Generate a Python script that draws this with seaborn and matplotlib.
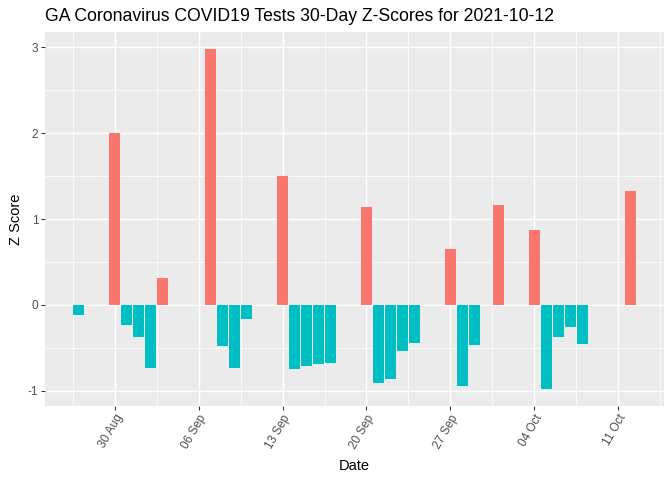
import numpy as np
import pandas as pd
import matplotlib
matplotlib.use("Agg")
import matplotlib.pyplot as plt
import matplotlib.dates as mdates
from matplotlib.ticker import FixedLocator
import seaborn as sns

dates = ["2021-08-27", "2021-08-30", "2021-08-31", "2021-09-01", "2021-09-02", "2021-09-03",
         "2021-09-07", "2021-09-08", "2021-09-09", "2021-09-10",
         "2021-09-13", "2021-09-14", "2021-09-15", "2021-09-16", "2021-09-17",
         "2021-09-20", "2021-09-21", "2021-09-22", "2021-09-23", "2021-09-24",
         "2021-09-27", "2021-09-28", "2021-09-29", "2021-10-01",
         "2021-10-04", "2021-10-05", "2021-10-06", "2021-10-07", "2021-10-08",
         "2021-10-12"]
z_scores = [-0.12, 2.00, -0.23, -0.37, -0.73, 0.31,
            2.98, -0.48, -0.73, -0.17,
            1.50, -0.75, -0.71, -0.69, -0.68,
            1.14, -0.91, -0.86, -0.54, -0.44,
            0.65, -0.94, -0.47, 1.16,
            0.87, -0.98, -0.37, -0.26, -0.46,
            1.33]
tick_dates = ["2021-08-30", "2021-09-06", "2021-09-13", "2021-09-20",
              "2021-09-27", "2021-10-04", "2021-10-11"]
title = "GA Coronavirus COVID19 Tests 30-Day Z-Scores for 2021-10-12"

sns.set_style("darkgrid")
plt.rcParams["font.family"] = ["Liberation Sans", "DejaVu Sans"]
plt.rcParams["axes.unicode_minus"] = False

df = pd.DataFrame({"date": pd.to_datetime(dates), "z": z_scores})
df["x"] = mdates.date2num(df["date"])
df["sign"] = np.where(df["z"] > 0, "pos", "neg")

fig = plt.figure(figsize=(7, 5), dpi=96)
ax = fig.add_axes([45/672, 1-406/480, (664-45)/672, (406-32)/480])
sns.barplot(data=df, x="x", y="z", hue="sign",
            palette={"pos": "#F8766D", "neg": "#00BFC4"},
            native_scale=True, width=0.9, dodge=False, legend=False,
            saturation=1, linewidth=0, ax=ax)

xmin = df["x"].min() - 0.45
xmax = df["x"].max() + 0.45
pad = (xmax - xmin) * 0.05
ax.set_xlim(xmin - pad, xmax + pad)
ymin, ymax = min(0, df["z"].min()), df["z"].max()
ypad = (ymax - ymin) * 0.05
ax.set_ylim(ymin - ypad, ymax + ypad)

ticks = mdates.date2num(pd.to_datetime(tick_dates))
ax.xaxis.set_major_locator(FixedLocator(ticks))
ax.set_xticklabels(pd.to_datetime(tick_dates).strftime("%d %b"))
minors = list(ticks - 3.5) + [ticks[-1] + 3.5]
ax.xaxis.set_minor_locator(FixedLocator(minors))
ax.yaxis.set_major_locator(FixedLocator([-1, 0, 1, 2, 3]))
ax.set_yticklabels(["-1", "0", "1", "2", "3"])
ax.yaxis.set_minor_locator(FixedLocator([-0.5, 0.5, 1.5, 2.5]))

ax.set_facecolor("#EBEBEB")
for s in ax.spines.values():
    s.set_visible(False)
ax.grid(which="major", color="white", linewidth=1.1)
ax.grid(which="minor", color="white", linewidth=0.55)
ax.set_axisbelow(True)
ax.tick_params(which="major", length=2.75, width=0.8, color="#333333",
               labelsize=8.8, labelcolor="#4D4D4D", pad=2.2, bottom=True, left=True)
ax.tick_params(which="minor", length=0)
for lab in ax.get_xticklabels():
    lab.set_rotation(60)
    lab.set_ha("right")
    lab.set_va("top")
    lab.set_rotation_mode("anchor")

ax.set_xlabel("Date", fontsize=11, color="black", labelpad=6)
ax.set_ylabel("Z Score", fontsize=11, color="black", labelpad=4)
ax.set_title(title, loc="left", fontsize=13.2, color="black", pad=8)

fig.savefig("out.png", dpi=96, facecolor="white")
